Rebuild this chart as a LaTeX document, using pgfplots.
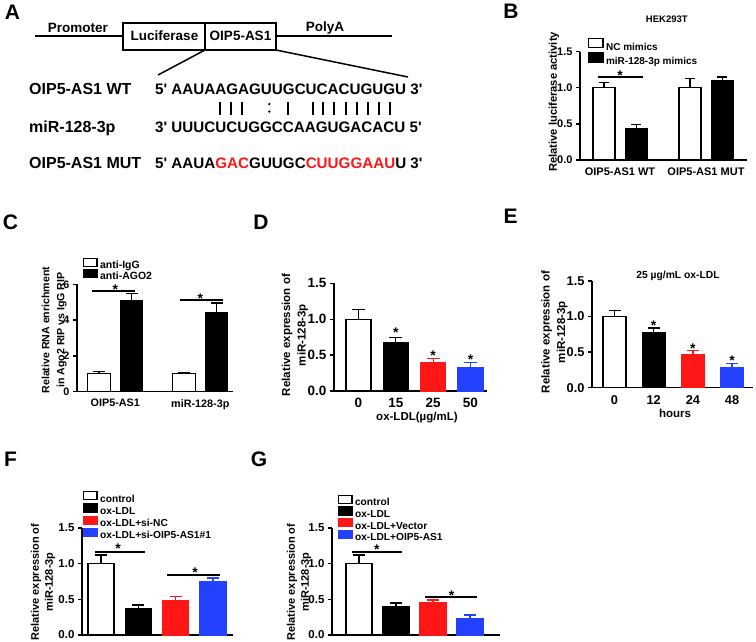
\documentclass[border=0pt]{standalone}
\usepackage{pgfplots}
\pgfplotsset{compat=1.18}
\usepackage{fontspec}
\setmainfont{Liberation Sans}
\newfontfamily\seqfont{Liberation Sans}
\definecolor{myred}{RGB}{255,22,22}
\definecolor{myblue}{RGB}{35,65,255}
\newcommand{\fs}[1]{\fontsize{#1}{#1}\selectfont\bfseries}

\pgfplotsset{
  gp/.style={
    scale only axis, axis lines*=left, axis line style={line width=1.3pt,-},
    ymin=0, clip=false, ybar,
    tick align=outside, major tick length=4pt,
    ytick style={line width=1.3pt, black},
    xtick style={draw=none},
    /pgf/number format/assume math mode=true,
    yticklabel style={/pgf/number format/fixed,/pgf/number format/fixed zerofill,/pgf/number format/precision=1},
    ylabel style={align=center, anchor=center},
    xlabel style={anchor=center},
    legend image code/.code={\draw[##1, line width=1.2pt] (0.6pt,-0.4pt) rectangle (14.4pt,7.6pt);},
    legend style={draw=none, fill=none, inner sep=0pt, anchor=north west, column sep=2.5pt,
       nodes={inner sep=0pt, text height=7.5pt, text depth=2pt}},
    legend cell align=left,
  },
  bb/.style n args={3}{bar shift=0pt, fill=#1, draw=#2, line width=1.3pt,
    error bars/y dir=plus, error bars/y explicit,
    error bars/error bar style={line width=1.3pt, draw=#2},
    error bars/error mark options={rotate=90, mark size=#3, line width=1.3pt, draw=#2}},
}
\tikzset{st/.style={font=\fs{14}, inner sep=0pt}}

\begin{document}
\begin{tikzpicture}

% ---------------- Panel A (diagram) ----------------
\begin{scope}[x=1pt,y=-1pt, every node/.style={inner sep=0pt}]
\node[font=\fs{21}] at (12.5,12.5) {A};
\node[font=\fs{21}] at (511,11.5) {B};
\node[font=\fs{21}] at (10.5,222.5) {C};
\node[font=\fs{21}] at (261,222) {D};
\node[font=\fs{21}] at (510.5,216) {E};
\node[font=\fs{21}] at (10.5,459.5) {F};
\node[font=\fs{21}] at (259,459.5) {G};

\draw[line width=1.5pt] (35,36) -- (123,36);
\draw[line width=1.5pt] (123,23) rectangle (276,50);
\draw[line width=1.5pt] (205,23) -- (205,50);
\draw[line width=1.5pt] (276,36) -- (392,36);
\draw[line width=1.5pt] (205,50) -- (158,75);
\draw[line width=1.5pt] (276,50) -- (408,77);
\node[anchor=base, font=\fs{13.5}] at (78,32) {Promoter};
\node[anchor=base, font=\fs{13.5}] at (325,31) {PolyA};
\node[anchor=base, font=\fs{13.5}] at (164.5,40) {Luciferase};
\node[anchor=base, font=\fs{13.5}] at (240.5,40) {OIP5-AS1};

\node[anchor=base west, font=\seqfont\fs{16}] at (29,94) {OIP5-AS1 WT};
\node[anchor=base west, font=\seqfont\fs{16}] at (29,132.5) {miR-128-3p};
\node[anchor=base west, font=\seqfont\fs{16}] at (29,168) {OIP5-AS1 MUT};
\node[anchor=base west, font=\seqfont\fs{15.2}] at (155,94) {5' AAUAAGAGUUGCUCACUGUGU 3'};
\node[anchor=base west, font=\seqfont\fs{15.2}] at (155,132.5) {3' UUUCUCUGGCCAAGUGACACU 5'};
\node[anchor=base west, font=\seqfont\fs{15.2}] at (155,168) {5' AAUA\textcolor{myred}{GAC}GUUGC\textcolor{myred}{CUUGGAAU}U 3'};
\foreach \xx in {220,230.7,241.7,288.3,312.7,323.3,334,345.7,356.7,367.7,379,390}
  \draw[line width=1.8pt] (\xx,102) -- (\xx,115);
\fill (269.3,104) circle (1.3);
\fill (269.3,111.5) circle (1.3);
\end{scope}

% ---------------- Panel B ----------------
\begin{axis}[gp, at={(580pt,-160pt)}, anchor=south west, width=167pt, height=108.3pt,
  xmin=-0.465, xmax=1.477, ymax=1.5, ytick={0,0.5,1,1.5}, bar width=22pt,
  xtick={0,1}, xticklabels={OIP5-AS1 WT,OIP5-AS1 MUT},
  tick label style={font=\fs{11}},
  ylabel={Relative luciferase activity},
  ylabel style={font=\fs{11.2}, at={(axis description cs:-0.156,0.536)}},
  title={HEK293T}, title style={font=\fs{9.5}, at={(axis description cs:0.52,1.246)}, anchor=center, yshift=0pt},
  legend image code/.code={\draw[#1, line width=1.2pt] (0.6pt,-0.6pt) rectangle (15.4pt,8.4pt);},
  legend style={at={(axis description cs:0.044,1.126)}, font=\fs{10}, row sep=0.3pt},
]
\addplot[bb={white}{black}{5pt}, bar shift=-16pt] coordinates {(0,1.0) +- (0,0.07) (1,1.0) +- (0,0.13)};
\addlegendentry{NC mimics}
\addplot[bb={black}{black}{5pt}, bar shift=16.5pt] coordinates {(0,0.43) +- (0,0.06) (1,1.10) +- (0,0.05)};
\addlegendentry{miR-128-3p mimics}
\draw[line width=1.2pt] (axis cs:-0.256,1.15) -- (axis cs:0.267,1.15);
\node[st, yshift=1.3pt] at (axis cs:0,1.15) {*};
\end{axis}

% ---------------- Panel C ----------------
\begin{axis}[gp, at={(77pt,-391.7pt)}, anchor=south west, width=156pt, height=107.4pt,
  xmin=-0.45, xmax=1.385, ymax=6, ytick={0,2,4,6}, bar width=22.5pt,
  yticklabel style={/pgf/number format/precision=0},
  xtick={0,1}, xticklabels={OIP5-AS1,miR-128-3p},
  tick label style={font=\fs{10.8}},
  ylabel={Relative RNA enrichment\\in Ago2 RIP vs IgG RIP},
  ylabel style={font=\fontsize{10.6}{15}\selectfont\bfseries, at={(axis description cs:-0.147,0.574)}},
  legend style={at={(axis description cs:0.035,1.25)}, font=\fs{10.5}, row sep=-1.8pt},
]
\addplot[bb={white}{black}{6pt}, bar shift=-16.25pt] coordinates {(0,1.0) +- (0,0.12) (1,1.0) +- (0,0.05)};
\addlegendentry{anti-IgG}
\addplot[bb={black}{black}{6pt}, bar shift=16.25pt] coordinates {(0,5.1) +- (0,0.4) (1,4.4) +- (0,0.55)};
\addlegendentry{anti-AGO2}
\draw[line width=1.2pt] (axis cs:-0.274,5.63) -- (axis cs:0.232,5.63);
\node[st, yshift=1.5pt] at (axis cs:0,5.63) {*};
\draw[line width=1.2pt] (axis cs:0.76,5.12) -- (axis cs:1.27,5.12);
\node[st, yshift=1.5pt] at (axis cs:1.0,5.12) {*};
\end{axis}

% ---------------- Panel D ----------------
\begin{axis}[gp, at={(334pt,-391pt)}, anchor=south west, width=153pt, height=107.7pt,
  xmin=-0.656, xmax=3.442, ymax=1.5, ytick={0,0.5,1,1.5}, bar width=25pt,
  xtick={0,1,2,3}, xticklabels={0,15,25,50},
  tick label style={font=\fs{13.5}},
  xlabel={ox-LDL(µg/mL)}, xlabel style={font=\fs{11.5}, at={(axis description cs:0.542,-0.251)}},
  ylabel={Relative expression of\\miR-128-3p},
  ylabel style={font=\fontsize{11.5}{15.5}\selectfont\bfseries, at={(axis description cs:-0.255,0.52)}},
]
\addplot[bb={white}{black}{6.5pt}] coordinates {(0,1.0) +- (0,0.14)};
\addplot[bb={black}{black}{6.5pt}] coordinates {(1,0.67) +- (0,0.08)};
\addplot[bb={myred}{myred}{6.5pt}] coordinates {(2,0.39) +- (0,0.06)};
\addplot[bb={myblue}{myblue}{6.5pt}] coordinates {(3,0.33) +- (0,0.07)};
\node[st, yshift=-2.8pt] at (axis cs:1,0.85) {*};
\node[st, yshift=-2.8pt] at (axis cs:2,0.525) {*};
\node[st, yshift=-2.8pt] at (axis cs:3,0.478) {*};
\end{axis}

% ---------------- Panel E ----------------
\begin{axis}[gp, at={(592pt,-387.7pt)}, anchor=south west, width=161pt, height=106.7pt,
  xmin=-0.574, xmax=3.533, ymax=1.5, ytick={0,0.5,1,1.5}, bar width=23pt,
  xtick={0,1,2,3}, xticklabels={0,12,24,48},
  tick label style={font=\fs{12.8}},
  xlabel={hours}, xlabel style={font=\fs{11.5}, at={(axis description cs:0.516,-0.237)}},
  ylabel={Relative expression of\\miR-128-3p},
  ylabel style={font=\fontsize{11.5}{15.5}\selectfont\bfseries, at={(axis description cs:-0.233,0.522)}},
  title={25 µg/mL ox-LDL}, title style={font=\fs{10.3}, at={(axis description cs:0.534,0.99)}, anchor=center, yshift=0pt},
]
\addplot[bb={white}{black}{6pt}] coordinates {(0,1.0) +- (0,0.09)};
\addplot[bb={black}{black}{6pt}] coordinates {(1,0.78) +- (0,0.06)};
\addplot[bb={myred}{myred}{6pt}] coordinates {(2,0.46) +- (0,0.06)};
\addplot[bb={myblue}{myblue}{6pt}] coordinates {(3,0.28) +- (0,0.06)};
\node[st, yshift=-2.8pt] at (axis cs:1,0.915) {*};
\node[st, yshift=-2.8pt] at (axis cs:2,0.585) {*};
\node[st, yshift=-2.8pt] at (axis cs:3,0.415) {*};
\end{axis}

% ---------------- Panel F ----------------
\begin{axis}[gp, at={(82pt,-635pt)}, anchor=south west, width=151pt, height=107pt,
  xmin=-0.509, xmax=3.536, ymax=1.5, ytick={0,0.5,1,1.5}, bar width=26pt,
  xtick=\empty,
  tick label style={font=\fs{11.5}},
  ylabel={Relative expression of\\miR-128-3p},
  ylabel style={font=\fontsize{11}{14}\selectfont\bfseries, at={(axis description cs:-0.258,0.495)}},
  legend style={at={(axis description cs:0.003,1.345)}, font=\fs{10.2}, row sep=-0.8pt},
]
\addplot[bb={white}{black}{6pt}] coordinates {(0,1.0) +- (0,0.12)};
\addlegendentry{control}
\addplot[bb={black}{black}{6pt}] coordinates {(1,0.37) +- (0,0.05)};
\addlegendentry{ox-LDL}
\addplot[bb={myred}{myred}{6pt}] coordinates {(2,0.48) +- (0,0.06)};
\addlegendentry{ox-LDL+si-NC}
\addplot[bb={myblue}{myblue}{6pt}] coordinates {(3,0.75) +- (0,0.05)};
\addlegendentry{ox-LDL+si-OIP5-AS1\#1}
\draw[line width=1.2pt] (axis cs:-0.16,1.164) -- (axis cs:1.18,1.164);
\node[st, yshift=2.8pt] at (axis cs:0.455,1.164) {*};
\draw[line width=1.2pt] (axis cs:1.77,0.841) -- (axis cs:3.19,0.841);
\node[st, yshift=2.8pt] at (axis cs:2.52,0.841) {*};
\end{axis}

% ---------------- Panel G ----------------
\begin{axis}[gp, at={(332pt,-635pt)}, anchor=south west, width=168pt, height=107pt,
  xmin=-0.73, xmax=3.81, ymax=1.5, ytick={0,0.5,1,1.5}, bar width=26pt,
  xtick=\empty,
  tick label style={font=\fs{11.5}},
  ylabel={Relative expression of\\miR-128-3p},
  ylabel style={font=\fontsize{11}{14}\selectfont\bfseries, at={(axis description cs:-0.196,0.495)}},
  legend style={at={(axis description cs:0.032,1.314)}, font=\fs{10.2}, row sep=-1.2pt},
]
\addplot[bb={white}{black}{6pt}] coordinates {(0,1.0) +- (0,0.12)};
\addlegendentry{control}
\addplot[bb={black}{black}{6pt}] coordinates {(1,0.40) +- (0,0.05)};
\addlegendentry{ox-LDL}
\addplot[bb={myred}{myred}{6pt}] coordinates {(2,0.46) +- (0,0.03)};
\addlegendentry{ox-LDL+Vector}
\addplot[bb={myblue}{myblue}{6pt}] coordinates {(3,0.23) +- (0,0.05)};
\addlegendentry{ox-LDL+OIP5-AS1}
\draw[line width=1.2pt] (axis cs:-0.19,1.164) -- (axis cs:1.16,1.164);
\node[st, yshift=2.2pt] at (axis cs:0.48,1.164) {*};
\draw[line width=1.2pt] (axis cs:1.78,0.533) -- (axis cs:3.19,0.533);
\node[st, yshift=1.4pt] at (axis cs:2.5,0.533) {*};
\end{axis}

\pgfresetboundingbox
\useasboundingbox (0pt,0pt) rectangle (756pt,-641pt);
\end{tikzpicture}
\end{document}
